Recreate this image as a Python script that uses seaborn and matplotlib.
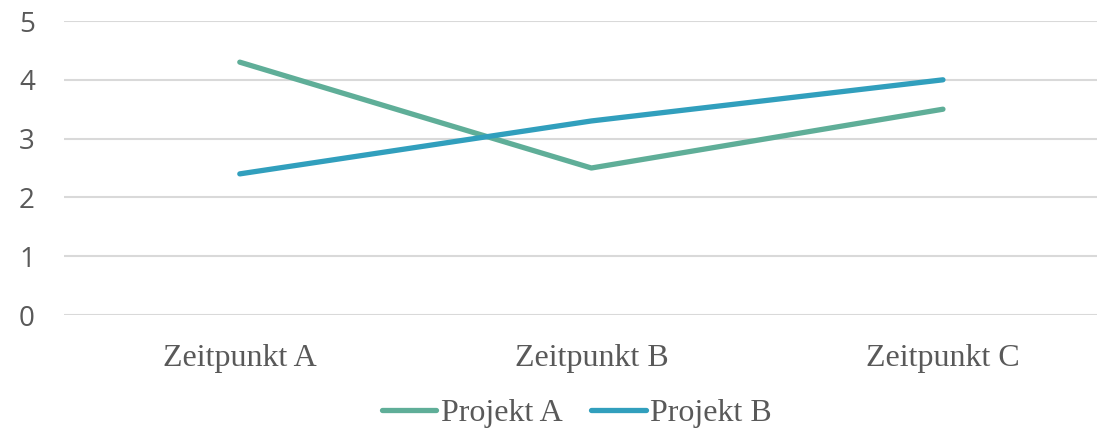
import matplotlib
matplotlib.use("Agg")
import matplotlib.pyplot as plt
import seaborn as sns
import pandas as pd
from matplotlib.lines import Line2D

categories = ["Zeitpunkt A", "Zeitpunkt B", "Zeitpunkt C"]
projekt_a = [4.3, 2.5, 3.5]
projekt_b = [2.4, 3.3, 4.0]
series_names = ["Projekt A", "Projekt B"]
y_ticks = [0, 1, 2, 3, 4, 5]

df = pd.DataFrame({
    "x": list(range(len(categories))) * 2,
    "value": projekt_a + projekt_b,
    "series": [series_names[0]] * 3 + [series_names[1]] * 3,
})

sns.set_theme(style="white")
text_color = "#595959"
fig = plt.figure(figsize=(10.97, 4.32), dpi=100)
ax = fig.add_axes([64 / 1097, 1 - 315 / 432, (1097 - 64) / 1097, (315 - 21) / 432])

palette = {"Projekt A": "#5FAE98", "Projekt B": "#319FBD"}
sns.lineplot(data=df, x="x", y="value", hue="series", palette=palette, ax=ax,
             linewidth=3.8, solid_capstyle="round", legend=False)

ax.set_xlim(-0.5, (1097 - 240) / 351.5)
ax.set_ylim(0, 5)
ax.set_yticks(y_ticks)
ax.set_xticks(range(len(categories)))
ax.set_xticklabels(categories, family="Liberation Serif", fontsize=23, color=text_color)
ax.set_yticklabels([str(t) for t in y_ticks], family="Open Sans", fontsize=20, color=text_color)
ax.tick_params(axis="x", length=0, pad=21)
ax.tick_params(axis="y", length=0, pad=21)
ax.grid(axis="y", color="#D9D9D9", linewidth=1.5)
ax.set_axisbelow(True)
for s in ax.spines.values():
    s.set_visible(False)
ax.set_xlabel("")
ax.set_ylabel("")

handles = [Line2D([0], [0], color=palette[n], linewidth=3.8, solid_capstyle="round") for n in series_names]
leg = fig.legend(handles, series_names, loc="center", bbox_to_anchor=(577 / 1097, 1 - 413 / 432),
                 ncol=2, frameon=False, prop={"family": "Liberation Serif", "size": 23},
                 handlelength=1.7, handletextpad=0.15, columnspacing=0.9,
                 borderpad=0, borderaxespad=0)
for t in leg.get_texts():
    t.set_color(text_color)

fig.savefig("out.png", dpi=100)
